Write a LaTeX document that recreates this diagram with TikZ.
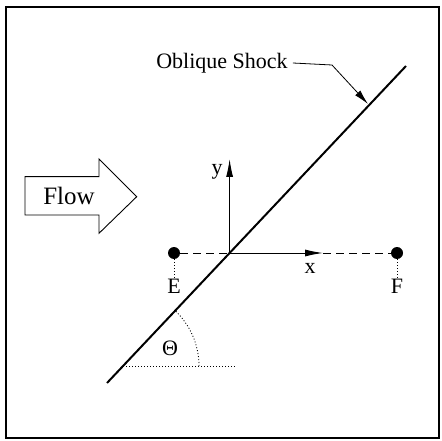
\documentclass[tikz,border=0pt]{standalone}
\usepackage{fontspec}
\setmainfont{Liberation Serif}
\usetikzlibrary{arrows.meta}
\begin{document}
\begin{tikzpicture}[x=1pt,y=-1pt,
  lbl/.style={font=\fontsize{22}{26}\selectfont, inner sep=0pt},
  flowlbl/.style={font=\fontsize{25}{30}\selectfont, inner sep=0pt},
  dotnode/.style={circle, fill=black, minimum size=12pt, inner sep=0pt},
  dashline/.style={line width=0.8pt, dash pattern=on 8pt off 5pt},
  dotline/.style={line width=0.8pt, dash pattern=on 1pt off 2pt},
  axis/.style={line width=1pt, -{Latex[length=18pt,width=7pt]}},
  shock/.style={line width=2pt},
  outline/.style={line width=0.9pt}]
\useasboundingbox (0,0) rectangle (442,441);
\draw[line width=1.2pt] (6,7) rectangle (439,438);

% shock
\coordinate (S1) at (107,383);
\coordinate (S2) at (406,66);
\coordinate (O) at (229.6,253);
\draw[shock] (S1) -- (S2);

% axes
\coordinate (Ytip) at (229.6,159);
\coordinate (Xtip) at (323,253);
\draw[axis] (O) -- (Ytip);
\draw[axis] (O) -- (Xtip);
\node[lbl] (ylbl) at (217,172) {y};
\node[lbl] (xlbl) at (310,268) {x};

% points E and F
\node[dotnode] (E) at (174,253) {};
\node[dotnode] (F) at (397,253) {};
\draw[dashline] (E) -- (O);
\draw[dashline] (Xtip) -- (F);
\node[lbl] (Elbl) at (174,286) {E};
\node[lbl] (Flbl) at (397,286) {F};
\draw[dotline] (E) -- (Elbl);
\draw[dotline] (F) -- (Flbl);

% angle
\coordinate (T) at (123,366);
\coordinate (Tend) at (236,366);
\draw[dotline] (T) -- (Tend);
\draw[dotline] (T) ++(0:76) arc[start angle=0, end angle=-46.7, radius=76];
\node[lbl] (theta) at (170,348) {Θ};

% oblique shock label
\node[lbl] (OS) at (222,63) {Oblique Shock};
\coordinate (Lbend) at (332,65);
\coordinate (Ltip) at (368,104);
\draw[line width=0.8pt, -{Latex[length=15pt,width=7pt]}] ([xshift=5pt]OS.east) -- (Lbend) -- (Ltip);

% flow arrow
\draw[outline] (25,176.7) -- (99,176.7) -- (99,159) -- (136.7,196.7) -- (99,233.3) -- (99,215) -- (25,215) -- cycle;
\node[flowlbl] (flow) at (69,196) {Flow};
\end{tikzpicture}
\end{document}
